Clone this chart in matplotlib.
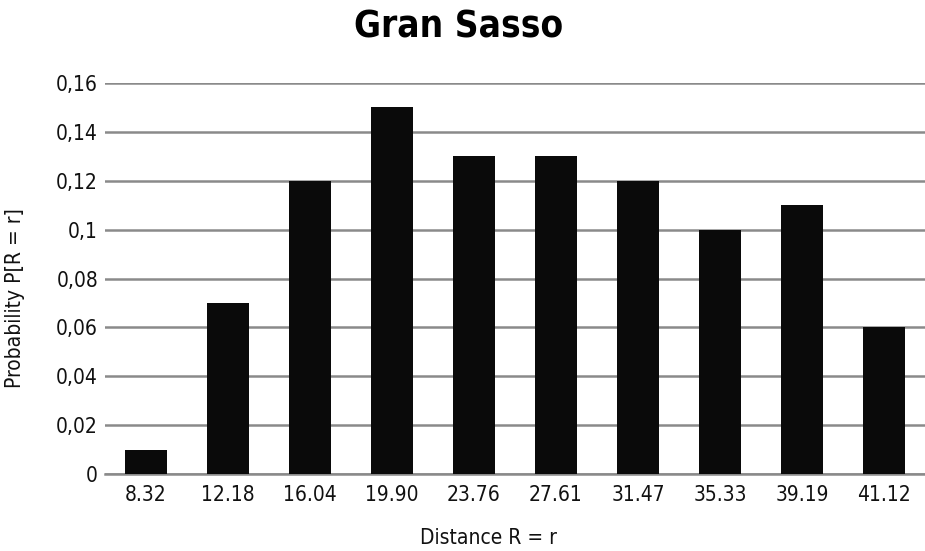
import matplotlib
matplotlib.use("Agg")
import matplotlib.pyplot as plt
from matplotlib.ticker import FuncFormatter

# distances (category labels) and probabilities
distances = ["8.32", "12.18", "16.04", "19.90", "23.76", "27.61", "31.47", "35.33", "39.19", "41.12"]
probs = [0.01, 0.07, 0.12, 0.15, 0.13, 0.13, 0.12, 0.10, 0.11, 0.06]
yticks = [0, 0.02, 0.04, 0.06, 0.08, 0.10, 0.12, 0.14, 0.16]

plt.rcParams["font.family"] = "DejaVu Sans"
plt.rcParams["font.stretch"] = "condensed"

fig = plt.figure(figsize=(9.25, 5.51), dpi=100)
ax = fig.add_axes([0.1135, 0.1397, 0.8865, 0.7097])

x = range(len(distances))
ax.bar(x, probs, width=0.51, color="#0a0a0a", zorder=3)

ax.set_xlim(-0.5, len(distances) - 0.5)
ax.set_ylim(0, 0.16)
ax.set_yticks(yticks)
ax.yaxis.set_major_formatter(FuncFormatter(lambda v, p: ("%g" % round(v, 2)).replace(".", ",")))
ax.set_xticks(list(x))
ax.set_xticklabels(distances)

ax.grid(axis="y", color="#8a8a8a", linewidth=1.8, zorder=0)
ax.set_axisbelow(True)
ax.axhline(0, color="#8a8a8a", linewidth=1.8, zorder=1, clip_on=False)
for s in ax.spines.values():
    s.set_visible(False)
ax.tick_params(axis="both", length=0, labelsize=15, colors="#111111")
ax.tick_params(axis="y", pad=5)
ax.tick_params(axis="x", pad=8)

fig.text(488 / 925, 1 - 538 / 551, "Distance R = r", fontsize=15, color="#111111",
         ha="center", va="center")
fig.text(15 / 925, 1 - 298 / 551, "Probability P[R = r]", fontsize=15, color="#111111",
         ha="center", va="center", rotation=90)
fig.text(459 / 925, 1 - 27 / 551, "Gran Sasso", fontsize=26.5, fontweight="bold",
         ha="center", va="center")

fig.savefig("out.png", dpi=100)
